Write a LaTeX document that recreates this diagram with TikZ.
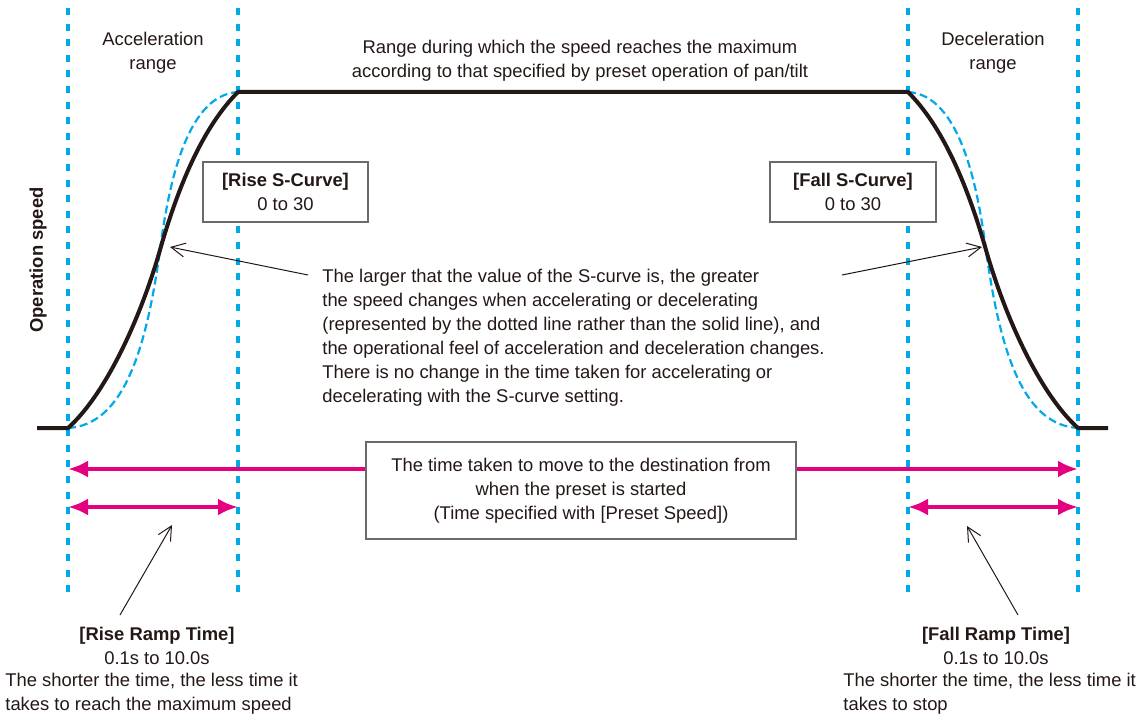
\documentclass[tikz,border=0pt]{standalone}
\usepackage{fontspec}
\setmainfont{Liberation Sans}
\usetikzlibrary{arrows.meta,positioning}
\definecolor{guidecyan}{HTML}{00A9E8}
\definecolor{rampmagenta}{HTML}{E4007F}
\definecolor{curveblack}{HTML}{231815}
\definecolor{boxgray}{HTML}{6A6A6A}

\begin{document}
\begin{tikzpicture}[
    x=0.5pt, y=-0.5pt,
    font=\fontsize{9.2}{12}\selectfont,
    text=curveblack,
    guide/.style={draw=guidecyan, line width=2pt, dash pattern=on 3.5pt off 4.3pt},
    speedline/.style={draw=curveblack, line width=2pt, line join=round},
    scurve/.style={draw=guidecyan, line width=1.1pt, dash pattern=on 4pt off 2pt},
    infobox/.style={
      draw=boxgray,
      line width=0.6pt,
      fill=white,
      align=center,
      inner sep=0pt
    },
    label/.style={align=center, inner sep=0pt},
    timeline/.style={draw=rampmagenta, line width=2.4pt},
    timearrow/.style={timeline, -{Latex[length=10pt, width=8.5pt]}},
    timespan/.style={timeline, {Latex[length=10pt, width=8.5pt]}-{Latex[length=10pt, width=8.5pt]}},
    pointer/.style={draw=curveblack, line width=0.5pt, -{Straight Barb[length=7pt, width=7pt]}}
  ]
  \useasboundingbox (0,0) rectangle (1146,717);

  % range limits
  \foreach \x/\n in {68/a, 238/b, 908/c, 1078/d} {
    \coordinate (top\n) at (\x,8);
    \coordinate (bot\n) at (\x,592);
    \draw[guide] (top\n) -- (bot\n);
  }

  % speed profile
  \draw[scurve] (68,428) .. controls (120,425) and (145,360) .. (160,250)
    .. controls (168,190) and (185,95) .. (238,92);
  \draw[scurve] (908,92) .. controls (961,95) and (978,190) .. (986,250)
    .. controls (1001,360) and (1026,425) .. (1078,428);
  \draw[speedline] (37,428) -- (68,428)
    .. controls (105,395) and (140,320) .. (160,250)
    .. controls (180,180) and (205,125) .. (238,92)
    -- (908,92)
    .. controls (941,125) and (966,180) .. (986,250)
    .. controls (1006,320) and (1041,395) .. (1078,428)
    -- (1108,428);

  % labels on top
  \node[label] (accel) at (153,53) {Acceleration\\range};
  \node[label] (decel) at (993,53) {Deceleration\\range};
  \node[label] (maxrange) at (580,61)
    {Range during which the speed reaches the maximum\\according to that specified by preset operation of pan/tilt};
  \node[label, rotate=90, font=\fontsize{9.2}{12}\selectfont\bfseries] (opspeed) at (38,260) {Operation speed};

  \node[infobox, minimum width=82.5pt, minimum height=30pt] (rise) at (285.5,192)
    {\textbf{[Rise S-Curve]}\\0 to 30};
  \node[infobox, minimum width=83pt, minimum height=30pt] (fall) at (853,192)
    {\textbf{[Fall S-Curve]}\\0 to 30};

  \node[label, align=left, anchor=west] (note) at (322,338)
    {The larger that the value of the S-curve is, the greater\\
     the speed changes when accelerating or decelerating\\
     (represented by the dotted line rather than the solid line), and\\
     the operational feel of acceleration and deceleration changes.\\
     There is no change in the time taken for accelerating or\\
     decelerating with the S-curve setting.};

  \coordinate (noteL) at (308,275);
  \coordinate (noteR) at (842,275);
  \coordinate (hitL) at (170,247);
  \coordinate (hitR) at (982,247);
  \draw[pointer] (noteL) -- (hitL);
  \draw[pointer] (noteR) -- (hitR);

  % times
  \node[infobox, minimum width=215pt, minimum height=48.5pt] (total) at (581,490.5)
    {The time taken to move to the destination from\\when the preset is started\\(Time specified with [Preset Speed])};
  \coordinate (endL) at (68,469);
  \coordinate (endR) at (1078,469);
  \draw[timearrow] (total.west |- endL) -- (endL);
  \draw[timearrow] (total.east |- endR) -- (endR);

  \coordinate (riseA) at (68,507);
  \coordinate (riseB) at (238,507);
  \coordinate (fallA) at (908,507);
  \coordinate (fallB) at (1078,507);
  \draw[timespan] (riseA) -- (riseB);
  \draw[timespan] (fallA) -- (fallB);

  % ramp time labels
  \node[label] (rampL) at (157,645.5) {\textbf{[Rise Ramp Time]}\\0.1s to 10.0s};
  \node[label, align=left, anchor=west] (rampLnote) at (5,693.5)
    {The shorter the time, the less time it\\takes to reach the maximum speed};
  \node[label] (rampR) at (996,645.5) {\textbf{[Fall Ramp Time]}\\0.1s to 10.0s};
  \node[label, align=left, anchor=west] (rampRnote) at (843,693.5)
    {The shorter the time, the less time it\\takes to stop};

  \coordinate (tailL) at (120,615);
  \coordinate (tailR) at (1018,615);
  \coordinate (tipL) at (172,525);
  \coordinate (tipR) at (967,526);
  \draw[pointer] (tailL) -- (tipL);
  \draw[pointer] (tailR) -- (tipR);
\end{tikzpicture}
\end{document}
